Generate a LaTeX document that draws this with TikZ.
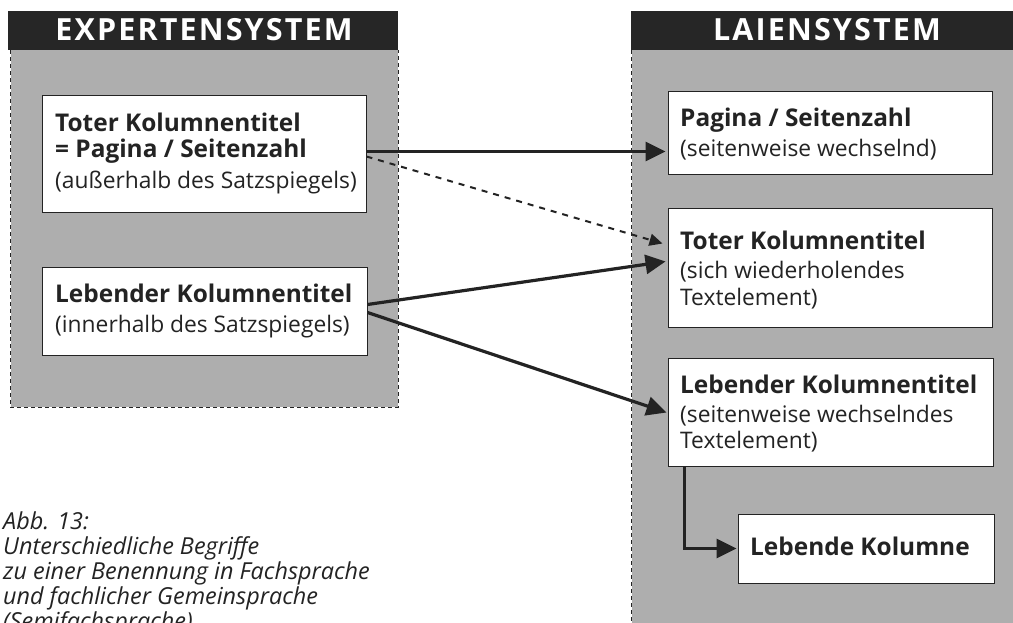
\documentclass[tikz,border=0pt]{standalone}
\usepackage{fontspec}
\setmainfont{Open Sans}
\newfontfamily\hdfont[LetterSpace=7]{Open Sans}
\usetikzlibrary{arrows.meta,calc}
\definecolor{panelgray}{RGB}{174,174,174}
\definecolor{headdark}{RGB}{38,38,38}
\definecolor{inkdark}{RGB}{35,35,35}
\begin{document}
\begin{tikzpicture}[x=1pt,y=-1pt,
  panel/.style={fill=panelgray, inner sep=0pt, draw=none},
  headbar/.style={fill=headdark, inner sep=0pt, draw=none, minimum height=39pt},
  hdtxt/.style={anchor=base, inner sep=0pt, text=white, font=\hdfont\fontsize{30.5}{32}\selectfont\bfseries},
  edge/.style={draw=inkdark, line width=1.3pt, dash pattern=on 4pt off 3pt},
  box/.style={draw=inkdark, line width=1pt, fill=white, inner sep=0pt},
  txtb/.style={anchor=base west, inner sep=0pt, text=inkdark, font=\fontsize{24.4}{26}\selectfont\bfseries},
  txtr/.style={anchor=base west, inner sep=0pt, text=inkdark, font=\fontsize{22.8}{26}\selectfont},
  capt/.style={anchor=base west, inner sep=0pt, text=inkdark, font=\fontsize{23.4}{25}\selectfont\itshape},
  arr/.style={draw=inkdark, line width=3.2pt, -{Triangle[length=20pt,width=19pt]}},
  darr/.style={draw=inkdark, line width=2pt, dash pattern=on 6pt off 6pt, -{Triangle[length=13pt,width=12pt]}}
]
\useasboundingbox (0,0) rectangle (1013,623);
\fill[white] (0,0) rectangle (1013,623);

% left panel
\node[panel, minimum width=387pt, minimum height=357pt] (lpanel) at (204.5,228.5) {};
\draw[edge] (lpanel.north west) -- (lpanel.south west) -- (lpanel.south east) -- (lpanel.north east);
\node[headbar, minimum width=390pt] (lhead) at (203,30.5) {};
\node[hdtxt] (lheadtxt) at (204,41) {EXPERTENSYSTEM};

% right panel
\node[panel, minimum width=388pt, minimum height=580pt] (rpanel) at (826,340) {};
\draw[edge] (rpanel.north west) -- (rpanel.south west);
\node[headbar, minimum width=389pt] (rhead) at (825.5,30.5) {};
\node[hdtxt] (rheadtxt) at (827,41) {LAIENSYSTEM};

% boxes
\node[box, minimum width=324pt, minimum height=117pt] (L1) at (204,154.5) {};
\node[box, minimum width=325pt, minimum height=88pt] (L2) at (204.5,311) {};
\node[box, minimum width=324pt, minimum height=83pt] (RA) at (830,133.5) {};
\node[box, minimum width=324pt, minimum height=118pt] (RB) at (830,268) {};
\node[box, minimum width=325pt, minimum height=108pt] (RC) at (830.5,412) {};
\node[box, minimum width=256pt, minimum height=69pt] (RD) at (866,548.5) {};

% texts
\node[txtb] (l1a) at (55,132) {Toter Kolumnentitel};
\node[txtb] (l1b) at (55,158) {= Pagina / Seitenzahl};
\node[txtr] (l1c) at (55,189) {(außerhalb des Satzspiegels)};
\node[txtb] (l2a) at (55,302) {Lebender Kolumnentitel};
\node[txtr] (l2b) at (55,332) {(innerhalb des Satzspiegels)};

\node[txtb] (raa) at (680,127) {Pagina / Seitenzahl};
\node[txtr] (rab) at (680,157) {(seitenweise wechselnd)};
\node[txtb] (rba) at (680,249) {Toter Kolumnentitel};
\node[txtr] (rbb) at (680,278) {(sich wiederholendes};
\node[txtr] (rbc) at (680,305) {Textelement)};
\node[txtb] (rca) at (680,393) {Lebender Kolumnentitel};
\node[txtr] (rcb) at (680,422) {(seitenweise wechselndes};
\node[txtr] (rcc) at (680,448) {Textelement)};
\node[txtb] (rda) at (750,555) {Lebende Kolumne};

% caption
\node[capt] (c1) at (3,529) {Abb. 13:};
\node[capt] (c2) at (3,554) {Unterschiedliche Begriffe};
\node[capt] (c3) at (3,579) {zu einer Benennung in Fachsprache};
\node[capt] (c4) at (3,604) {und fachlicher Gemeinsprache};
\node[capt] (c5) at (3,629) {(Semifachsprache)};

% connectors
\draw[arr] ($(L1.north east)+(0,56)$) -- ($(RA.north west)+(-2,60)$);
\draw[darr] ($(L1.north east)+(0,61)$) -- ($(RB.north west)+(-5,35)$);
\draw[arr] ($(L2.north east)+(0,38)$) -- ($(RB.north west)+(-2,53)$);
\draw[arr] ($(L2.north east)+(0,46)$) -- ($(RC.north west)+(-1,55)$);
\draw[arr] ($(RC.south west)+(17,0)$) |- ($(RD.west)+(-1,0)$);
\end{tikzpicture}
\end{document}
